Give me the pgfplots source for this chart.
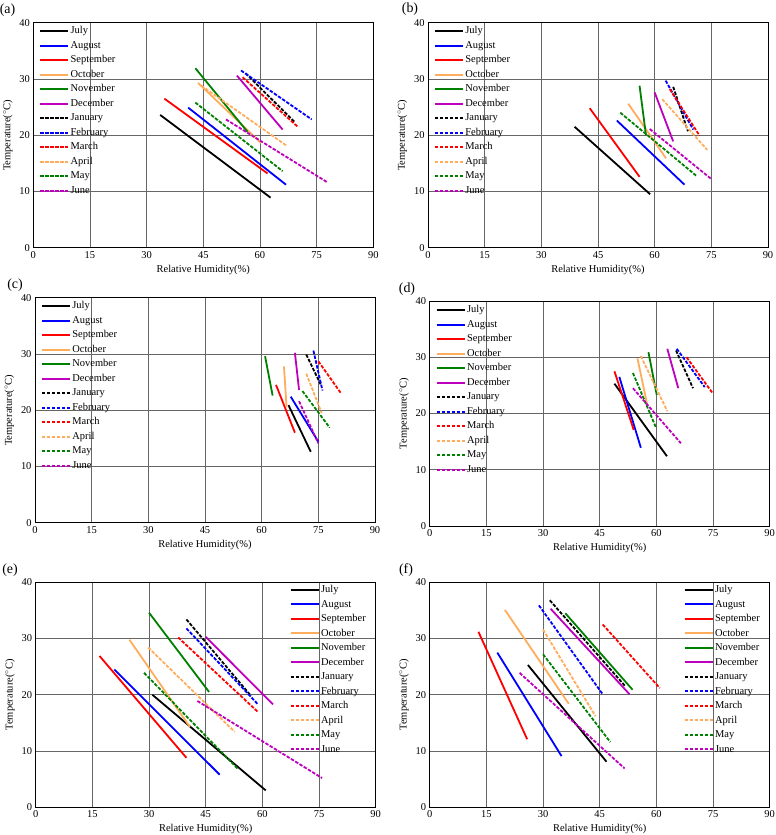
\documentclass[border=0pt]{standalone}
\usepackage{fontspec}
\setmainfont{Liberation Serif}
\usepackage{pgfplots}
\pgfplotsset{compat=1.18}
\definecolor{myorange}{RGB}{255,172,92}
\definecolor{mygreen}{RGB}{0,128,0}
\definecolor{mymag}{RGB}{190,0,190}
\newcommand{\fs}{\fontsize{10.5}{12}\selectfont}
\pgfplotsset{
  panel/.style={
    scale only axis, width=340bp, height=225bp,
    xmin=0, xmax=90, ymin=0, ymax=40,
    xtick={0,15,...,90}, ytick={0,10,...,40},
    grid=major, major grid style={black!60, line width=0.7bp},
    major tick length=0pt,
    axis line style={black, line width=0.6bp},
    tick label style={font=\fs},
    label style={font=\fs},
    xlabel={Relative Humidity(\%)},
    ylabel={Temperature($^{\circ}$C)},
    /pgf/number format/assume math mode=true,
    legend style={draw=none, fill=none, inner sep=0pt, font=\fs, row sep=1bp,
      nodes={inner sep=1.5bp, text height=8bp, text depth=2.5bp}},
    legend cell align=left,
    legend image code/.code={\draw[##1, line width=1.9bp] (0bp,0bp) -- (28bp,0bp);},
    every axis plot/.append style={line width=1.8bp},
    anchor=south west,
  },
  lgl/.style={legend style={at={(0.017,0.993)}, anchor=north west}},
  lgd/.style={legend style={at={(0.017,0.9905)}, anchor=north west}},
  lgr/.style={legend style={at={(0.976,0.997)}, anchor=north east}},
  dsh/.style={dash pattern=on 3.5bp off 1.5bp},
  jul/.style={black}, aug/.style={blue}, sep/.style={red},
  oct/.style={myorange}, nov/.style={mygreen}, dec/.style={mymag},
  jan/.style={black,dsh}, feb/.style={blue,dsh}, mar/.style={red,dsh},
  apr/.style={myorange,dsh}, may/.style={mygreen,dsh}, jun/.style={mymag,dsh},
}
\newcommand{\months}{\legend{July,August,September,October,November,December,January,February,March,April,May,June}}
\begin{document}
\begin{tikzpicture}
\useasboundingbox (0,0) rectangle (776bp,835bp);
% (a)
\begin{axis}[panel, lgl, at={(33.3bp,587.3bp)}]
\addplot[jul] coordinates {(33.6,23.6) (62.8,8.9)};
\addplot[aug] coordinates {(41.0,24.9) (66.9,11.2)};
\addplot[sep] coordinates {(34.7,26.5) (62.0,13.2)};
\addplot[oct] coordinates {(43.6,29.3) (60.3,18.6)};
\addplot[nov] coordinates {(42.9,31.9) (56.7,20.6)};
\addplot[dec] coordinates {(53.9,30.6) (66.0,21.0)};
\addplot[jan] coordinates {(56.2,31.0) (69.1,22.4)};
\addplot[feb] coordinates {(55.0,31.5) (73.7,22.8)};
\addplot[mar] coordinates {(55.4,30.3) (70.0,21.5)};
\addplot[apr] coordinates {(44.5,28.8) (66.9,18.2)};
\addplot[may] coordinates {(42.9,25.8) (66.0,13.6)};
\addplot[jun] coordinates {(51.0,22.8) (77.9,11.6)};
\months
\end{axis}
% (b)
\begin{axis}[panel, lgl, at={(428bp,587.3bp)}]
\addplot[jul] coordinates {(38.8,21.5) (58.8,9.5)};
\addplot[aug] coordinates {(50.0,22.6) (67.9,11.2)};
\addplot[sep] coordinates {(42.8,24.8) (56.0,12.6)};
\addplot[oct] coordinates {(53.0,25.6) (63.0,15.9)};
\addplot[nov] coordinates {(56.0,28.8) (57.7,20.0)};
\addplot[dec] coordinates {(60.0,27.6) (64.9,18.9)};
\addplot[jan] coordinates {(64.9,28.6) (68.8,20.7)};
\addplot[feb] coordinates {(62.9,29.7) (70.2,21.0)};
\addplot[mar] coordinates {(64.0,28.2) (71.9,19.9)};
\addplot[apr] coordinates {(62.0,26.4) (73.9,17.4)};
\addplot[may] coordinates {(50.9,24.0) (71.0,12.8)};
\addplot[jun] coordinates {(58.7,21.1) (75.0,12.2)};
\months
\end{axis}
% (c)
\begin{axis}[panel, lgl, at={(35bp,312.3bp)}]
\addplot[jul] coordinates {(67.1,20.9) (73.0,12.6)};
\addplot[aug] coordinates {(67.7,22.4) (75.0,14.4)};
\addplot[sep] coordinates {(63.8,24.5) (68.8,16.0)};
\addplot[oct] coordinates {(65.9,27.8) (66.6,20.5)};
\addplot[nov] coordinates {(60.9,29.6) (62.9,22.6)};
\addplot[dec] coordinates {(68.8,30.2) (69.9,23.6)};
\addplot[jan] coordinates {(71.8,29.9) (75.6,24.6)};
\addplot[feb] coordinates {(73.7,30.6) (76.1,23.5)};
\addplot[mar] coordinates {(75.0,28.7) (80.9,23.1)};
\addplot[apr] coordinates {(71.8,26.5) (75.9,19.5)};
\addplot[may] coordinates {(70.8,23.4) (78.0,16.9)};
\addplot[jun] coordinates {(69.9,21.6) (75.0,14.1)};
\months
\end{axis}
% (d)
\begin{axis}[panel, lgd, at={(429.7bp,309bp)}]
\addplot[jul] coordinates {(48.9,25.3) (62.8,12.4)};
\addplot[aug] coordinates {(50.2,26.5) (55.9,13.9)};
\addplot[sep] coordinates {(48.9,27.5) (54.0,17.1)};
\addplot[oct] coordinates {(55.0,29.8) (57.6,21.5)};
\addplot[nov] coordinates {(57.9,30.9) (60.1,23.3)};
\addplot[dec] coordinates {(62.9,31.5) (65.8,24.5)};
\addplot[jan] coordinates {(65.2,31.2) (69.7,24.5)};
\addplot[feb] coordinates {(65.4,31.5) (72.8,24.7)};
\addplot[mar] coordinates {(68.0,30.0) (74.8,23.7)};
\addplot[apr] coordinates {(55.9,30.2) (62.9,20.4)};
\addplot[may] coordinates {(53.8,27.2) (59.9,17.5)};
\addplot[jun] coordinates {(53.8,24.5) (66.5,14.7)};
\months
\end{axis}
% (e)
\begin{axis}[panel, lgr, at={(35.7bp,27.7bp)}]
\addplot[jul] coordinates {(30.9,20.0) (60.9,3.0)};
\addplot[aug] coordinates {(20.8,24.5) (48.7,5.8)};
\addplot[sep] coordinates {(16.9,26.9) (39.9,8.8)};
\addplot[oct] coordinates {(24.8,29.8) (40.8,14.3)};
\addplot[nov] coordinates {(30.0,34.6) (45.9,20.5)};
\addplot[dec] coordinates {(45.0,30.3) (62.8,18.3)};
\addplot[jan] coordinates {(39.9,33.4) (57.0,19.8)};
\addplot[feb] coordinates {(39.9,31.8) (58.7,18.4)};
\addplot[mar] coordinates {(37.7,30.2) (58.9,16.9)};
\addplot[apr] coordinates {(29.8,28.4) (52.7,13.4)};
\addplot[may] coordinates {(28.7,23.9) (53.4,6.9)};
\addplot[jun] coordinates {(42.8,18.9) (75.8,5.2)};
\months
\end{axis}
% (f)
\begin{axis}[panel, lgr, at={(429.7bp,27.7bp)}]
\addplot[jul] coordinates {(26.0,25.3) (46.8,8.1)};
\addplot[aug] coordinates {(17.9,27.5) (34.9,9.1)};
\addplot[sep] coordinates {(12.9,31.2) (25.8,12.1)};
\addplot[oct] coordinates {(19.9,35.1) (36.8,18.4)};
\addplot[nov] coordinates {(35.9,34.5) (53.7,20.9)};
\addplot[dec] coordinates {(32.0,35.3) (52.9,20.1)};
\addplot[jan] coordinates {(31.8,36.8) (51.8,21.5)};
\addplot[feb] coordinates {(28.9,35.9) (45.8,20.1)};
\addplot[mar] coordinates {(45.8,32.5) (60.9,21.2)};
\addplot[apr] coordinates {(30.0,31.6) (43.9,16.2)};
\addplot[may] coordinates {(30.0,27.2) (47.8,11.6)};
\addplot[jun] coordinates {(23.8,23.9) (51.6,6.9)};
\months
\end{axis}
\node[font=\fontsize{14}{16}\selectfont] at (7.5bp,825bp) {(a)};
\node[font=\fontsize{14}{16}\selectfont] at (410bp,826bp) {(b)};
\node[font=\fontsize{14}{16}\selectfont] at (15bp,550bp) {(c)};
\node[font=\fontsize{14}{16}\selectfont] at (407bp,546bp) {(d)};
\node[font=\fontsize{14}{16}\selectfont] at (10bp,265bp) {(e)};
\node[font=\fontsize{14}{16}\selectfont] at (406bp,265bp) {(f)};
\end{tikzpicture}
\end{document}
